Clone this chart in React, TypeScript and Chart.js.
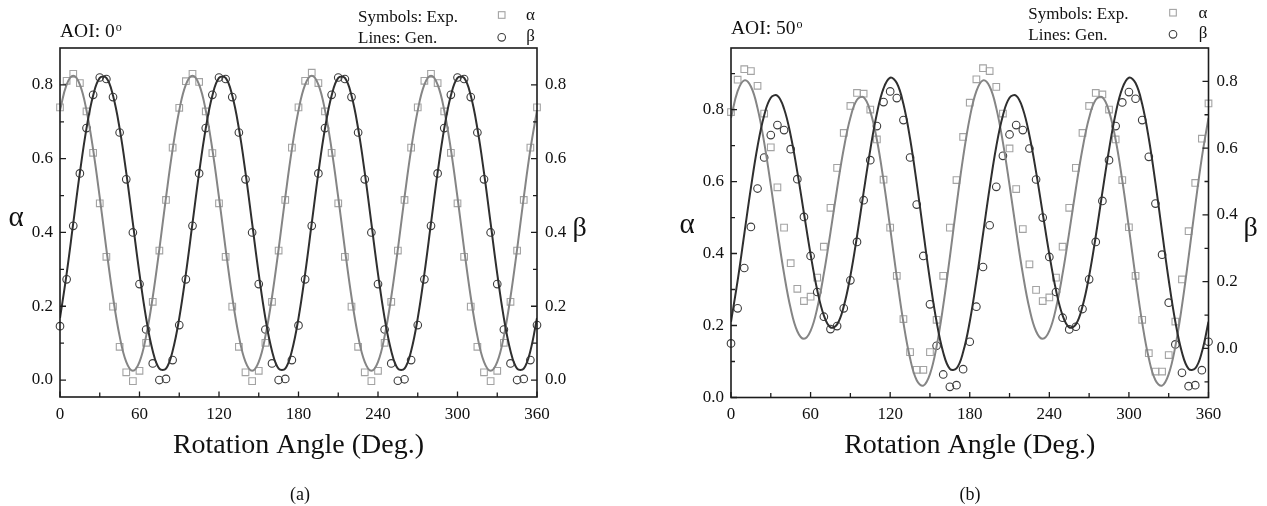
import React, { useEffect, useRef } from 'react';
import { Chart, registerables } from 'chart.js';

Chart.register(...registerables);

// ---------------- data ----------------
const angles = [0, 5, 10, 15, 20, 25, 30, 35, 40, 45, 50, 55, 60, 65, 70, 75, 80, 85, 90, 95, 100, 105, 110, 115, 120, 125, 130, 135, 140, 145, 150, 155, 160, 165, 170, 175, 180, 185, 190, 195, 200, 205, 210, 215, 220, 225, 230, 235, 240, 245, 250, 255, 260, 265, 270, 275, 280, 285, 290, 295, 300, 305, 310, 315, 320, 325, 330, 335, 340, 345, 350, 355, 360];

// (a) AOI 0°
const alphaExpA = [
  0.739, 0.811, 0.83, 0.805, 0.728, 0.616, 0.479, 0.334, 0.199, 0.09, 0.021, -0.003, 0.025, 0.101, 0.212, 0.351, 0.488, 0.63,
  0.738, 0.81, 0.83, 0.808, 0.728, 0.615, 0.479, 0.334, 0.199, 0.09, 0.021, -0.003, 0.025, 0.101, 0.212, 0.351, 0.488, 0.63,
  0.739, 0.811, 0.833, 0.805, 0.728, 0.616, 0.479, 0.334, 0.199, 0.09, 0.021, -0.003, 0.025, 0.101, 0.212, 0.351, 0.488, 0.63,
  0.739, 0.811, 0.83, 0.805, 0.728, 0.616, 0.479, 0.334, 0.199, 0.09, 0.021, -0.003, 0.025, 0.101, 0.212, 0.351, 0.488, 0.63,
  0.739];
const betaExpA = [
  0.146, 0.273, 0.418, 0.56, 0.683, 0.773, 0.82, 0.816, 0.767, 0.671, 0.544, 0.4, 0.26, 0.137, 0.045, 0.0, 0.003, 0.054,
  0.149, 0.273, 0.418, 0.56, 0.683, 0.773, 0.82, 0.816, 0.767, 0.671, 0.544, 0.4, 0.26, 0.137, 0.045, 0.0, 0.003, 0.054,
  0.148, 0.273, 0.418, 0.56, 0.683, 0.773, 0.82, 0.816, 0.767, 0.671, 0.544, 0.4, 0.26, 0.137, 0.045, -0.002, 0.002, 0.054,
  0.149, 0.273, 0.418, 0.56, 0.683, 0.773, 0.82, 0.816, 0.767, 0.671, 0.544, 0.4, 0.26, 0.137, 0.045, 0.0, 0.003, 0.054,
  0.149];
const alphaGenA = [
  0.731, 0.801, 0.825, 0.801, 0.731, 0.625, 0.495, 0.355, 0.225, 0.119, 0.049, 0.025, 0.049, 0.119, 0.225, 0.355, 0.495, 0.625,
  0.731, 0.801, 0.825, 0.801, 0.731, 0.625, 0.495, 0.355, 0.225, 0.119, 0.049, 0.025, 0.049, 0.119, 0.225, 0.355, 0.495, 0.625,
  0.731, 0.801, 0.825, 0.801, 0.731, 0.625, 0.495, 0.355, 0.225, 0.119, 0.049, 0.025, 0.049, 0.119, 0.225, 0.355, 0.495, 0.625,
  0.731, 0.801, 0.825, 0.801, 0.731, 0.625, 0.495, 0.355, 0.225, 0.119, 0.049, 0.025, 0.049, 0.119, 0.225, 0.355, 0.495, 0.625,
  0.731];
const betaGenA = [
  0.168, 0.288, 0.425, 0.562, 0.682, 0.771, 0.819, 0.819, 0.771, 0.682, 0.562, 0.425, 0.288, 0.168, 0.079, 0.031, 0.031, 0.079,
  0.168, 0.288, 0.425, 0.562, 0.682, 0.771, 0.819, 0.819, 0.771, 0.682, 0.562, 0.425, 0.288, 0.168, 0.079, 0.031, 0.031, 0.079,
  0.168, 0.288, 0.425, 0.562, 0.682, 0.771, 0.819, 0.819, 0.771, 0.682, 0.562, 0.425, 0.288, 0.168, 0.079, 0.031, 0.031, 0.079,
  0.168, 0.288, 0.425, 0.562, 0.682, 0.771, 0.819, 0.819, 0.771, 0.682, 0.562, 0.425, 0.288, 0.168, 0.079, 0.031, 0.031, 0.079,
  0.168];

// (b) AOI 50°
const alphaExpB = [
  0.793, 0.883, 0.912, 0.907, 0.866, 0.789, 0.695, 0.584, 0.472, 0.373, 0.302, 0.268, 0.28, 0.333, 0.419, 0.527, 0.638, 0.735,
  0.81, 0.846, 0.844, 0.8, 0.717, 0.605, 0.472, 0.338, 0.218, 0.126, 0.077, 0.077, 0.126, 0.216, 0.338, 0.472, 0.604, 0.724,
  0.819, 0.884, 0.915, 0.907, 0.863, 0.789, 0.692, 0.579, 0.468, 0.37, 0.299, 0.268, 0.278, 0.333, 0.419, 0.527, 0.638, 0.735,
  0.81, 0.846, 0.842, 0.8, 0.717, 0.604, 0.473, 0.338, 0.216, 0.123, 0.072, 0.072, 0.118, 0.211, 0.328, 0.462, 0.596, 0.719,
  0.817];
const betaExpB = [
  0.015, 0.12, 0.241, 0.364, 0.479, 0.572, 0.639, 0.669, 0.654, 0.597, 0.507, 0.394, 0.277, 0.169, 0.095, 0.058, 0.067, 0.12,
  0.204, 0.319, 0.444, 0.564, 0.666, 0.738, 0.77, 0.75, 0.684, 0.572, 0.431, 0.277, 0.132, 0.008, -0.078, -0.115, -0.11, -0.062,
  0.02, 0.125, 0.244, 0.369, 0.484, 0.577, 0.641, 0.669, 0.654, 0.599, 0.506, 0.392, 0.274, 0.169, 0.092, 0.057, 0.065, 0.118,
  0.207, 0.319, 0.442, 0.564, 0.666, 0.737, 0.768, 0.748, 0.684, 0.574, 0.434, 0.281, 0.137, 0.012, -0.073, -0.113, -0.11, -0.065,
  0.02];
const alphaGenB = [
  0.777, 0.851, 0.881, 0.864, 0.804, 0.709, 0.59, 0.463, 0.344, 0.247, 0.184, 0.163, 0.185, 0.248, 0.344, 0.459, 0.58, 0.691,
  0.777, 0.827, 0.834, 0.795, 0.716, 0.603, 0.471, 0.334, 0.208, 0.109, 0.048, 0.033, 0.065, 0.142, 0.255, 0.39, 0.533, 0.667,
  0.777, 0.851, 0.881, 0.864, 0.804, 0.709, 0.59, 0.463, 0.344, 0.247, 0.184, 0.163, 0.185, 0.248, 0.344, 0.459, 0.58, 0.691,
  0.777, 0.827, 0.834, 0.795, 0.716, 0.603, 0.471, 0.334, 0.208, 0.109, 0.048, 0.033, 0.065, 0.142, 0.255, 0.39, 0.533, 0.667,
  0.777];
const betaGenB = [
  0.08, 0.203, 0.342, 0.481, 0.605, 0.698, 0.751, 0.757, 0.718, 0.638, 0.529, 0.405, 0.282, 0.175, 0.099, 0.063, 0.072, 0.126,
  0.217, 0.336, 0.468, 0.595, 0.704, 0.779, 0.811, 0.795, 0.732, 0.629, 0.496, 0.349, 0.205, 0.08, -0.012, -0.061, -0.06, -0.011,
  0.08, 0.203, 0.342, 0.481, 0.605, 0.698, 0.751, 0.757, 0.718, 0.638, 0.529, 0.405, 0.282, 0.175, 0.099, 0.063, 0.072, 0.126,
  0.217, 0.336, 0.468, 0.595, 0.704, 0.779, 0.811, 0.795, 0.732, 0.629, 0.496, 0.349, 0.205, 0.08, -0.012, -0.061, -0.06, -0.011,
  0.08];

// ticks
const xMajorTicks = [0, 60, 120, 180, 240, 300, 360];
const xMinorTicks = [30, 90, 150, 210, 270, 330];
const yMajorTicks = [0, 0.2, 0.4, 0.6, 0.8];
const yMinorTicksA = [0.1, 0.3, 0.5, 0.7];
const yMinorTicksBLeft = [0.1, 0.3, 0.5, 0.7, 0.9];
const yMinorTicksBRight = [-0.1, 0.1, 0.3, 0.5, 0.7];

const xTitle = 'Rotation Angle (Deg.)';
const legendSymbolsText = 'Symbols: Exp.';
const legendLinesText = 'Lines: Gen.';

// ---------------- styles ----------------
const SERIF = '"Liberation Serif", "Times New Roman", Times, serif';
const TEXT = '#111111';
const FRAME = '#1c1c1c';
const ALPHA_LINE = '#858585';
const BETA_LINE = '#2f2f2f';
const ALPHA_SYM = '#a3a3a3';
const BETA_SYM = '#3c3c3c';

function makeDecor(p: any) {
  return {
    id: 'decor',
    afterDraw(chart: any) {
      const ctx = chart.ctx;
      const ca = chart.chartArea;
      const sx = chart.scales.x;
      const sl = chart.scales.y;
      const sr = chart.scales.y2;
      ctx.save();
      // frame
      ctx.strokeStyle = FRAME;
      ctx.lineWidth = 1.6;
      ctx.strokeRect(ca.left, ca.top, ca.right - ca.left, ca.bottom - ca.top);
      // inward tick marks
      ctx.lineWidth = 1.3;
      ctx.beginPath();
      const xTick = (vals: number[], len: number) => vals.forEach((v) => {
        const px = sx.getPixelForValue(v);
        ctx.moveTo(px, ca.bottom);
        ctx.lineTo(px, ca.bottom - len);
      });
      const lTick = (vals: number[], len: number) => vals.forEach((v) => {
        const py = sl.getPixelForValue(v);
        ctx.moveTo(ca.left, py);
        ctx.lineTo(ca.left + len, py);
      });
      const rTick = (vals: number[], len: number) => vals.forEach((v) => {
        const py = sr.getPixelForValue(v);
        ctx.moveTo(ca.right, py);
        ctx.lineTo(ca.right - len, py);
      });
      xTick(xMajorTicks, 5.5);
      xTick(xMinorTicks, 4.5);
      lTick(yMajorTicks, 6);
      lTick(p.minorL, 4);
      rTick(yMajorTicks, 6);
      rTick(p.minorR, 4);
      ctx.stroke();

      ctx.fillStyle = TEXT;
      ctx.textBaseline = 'alphabetic';
      // panel title with superscript o
      ctx.textAlign = 'left';
      ctx.font = `19.5px ${SERIF}`;
      ctx.fillText(p.title, p.titleX, p.titleY);
      const tw = ctx.measureText(p.title).width;
      ctx.font = `12px ${SERIF}`;
      ctx.fillText('o', p.titleX + tw + 1, p.titleY - 6.5);

      // legend
      ctx.font = `17px ${SERIF}`;
      ctx.fillText(legendSymbolsText, p.legendX, p.legendY1);
      ctx.fillText(legendLinesText, p.legendX, p.legendY2);
      ctx.lineWidth = 1.1;
      ctx.strokeStyle = ALPHA_SYM;
      ctx.strokeRect(p.symX - 3.3, p.symY1 - 3.3, 6.6, 6.6);
      ctx.strokeStyle = BETA_SYM;
      ctx.beginPath();
      ctx.arc(p.symX, p.symY2, 3.8, 0, Math.PI * 2);
      ctx.stroke();
      ctx.textAlign = 'center';
      ctx.fillText('α', p.greekX, p.greekY1);
      ctx.fillText('β', p.greekX, p.greekY2);

      // axis titles
      ctx.font = `29px ${SERIF}`;
      ctx.fillText('α', p.yTitleL[0], p.yTitleL[1]);
      ctx.font = `28px ${SERIF}`;
      ctx.fillText('β', p.yTitleR[0], p.yTitleR[1]);

      // caption
      ctx.font = `18px ${SERIF}`;
      ctx.fillText(p.caption, p.captionX, p.captionY);
      ctx.restore();
    },
  };
}

function buildConfig(p: any) {
  const pts = (ys: number[]) => angles.map((x, i) => ({ x, y: ys[i] }));
  const tickFont = { family: SERIF, size: 17 };
  return {
    type: 'scatter',
    data: {
      datasets: [
        { label: 'β Gen.', data: pts(p.betaGen), yAxisID: 'y2', showLine: true, borderColor: BETA_LINE, borderWidth: 2, pointRadius: 0, tension: 0.4, fill: false },
        { label: 'α Gen.', data: pts(p.alphaGen), yAxisID: 'y', showLine: true, borderColor: ALPHA_LINE, borderWidth: 2, pointRadius: 0, tension: 0.4, fill: false },
        { label: 'β Exp.', data: pts(p.betaExp), yAxisID: 'y2', showLine: false, pointStyle: 'circle', pointRadius: 3.8, borderColor: BETA_SYM, backgroundColor: 'rgba(0,0,0,0)', borderWidth: 1.1, clip: false },
        { label: 'α Exp.', data: pts(p.alphaExp), yAxisID: 'y', showLine: false, pointStyle: 'rect', pointRadius: 4.7, borderColor: ALPHA_SYM, backgroundColor: 'rgba(0,0,0,0)', borderWidth: 1.1, clip: false },
      ],
    },
    options: {
      responsive: false,
      animation: false,
      events: [],
      layout: { padding: { top: 48, left: 0, right: 0, bottom: 0 } },
      plugins: { legend: { display: false }, tooltip: { enabled: false }, title: { display: false } },
      scales: {
        x: {
          type: 'linear', position: 'bottom', min: 0, max: 360,
          grid: { display: false, drawTicks: false }, border: { display: false },
          afterBuildTicks: (s: any) => { s.ticks = xMajorTicks.map((v) => ({ value: v })); },
          afterFit: (s: any) => { s.height = p.xHeight; },
          ticks: { autoSkip: false, maxRotation: 0, padding: 7, color: TEXT, font: tickFont, callback: (v: any) => String(v) },
          title: { display: true, text: xTitle, color: TEXT, font: { family: SERIF, size: 28 }, padding: { top: 0, bottom: 43.7 } },
        },
        y: {
          type: 'linear', position: 'left', min: p.yMin, max: p.yMax,
          grid: { display: false, drawTicks: false }, border: { display: false },
          afterBuildTicks: (s: any) => { s.ticks = yMajorTicks.map((v) => ({ value: v })); },
          afterFit: (s: any) => { s.width = p.yWidth; },
          ticks: { autoSkip: false, padding: 7, color: TEXT, font: tickFont, callback: (v: any) => Number(v).toFixed(1) },
        },
        y2: {
          type: 'linear', position: 'right', min: p.y2Min, max: p.y2Max,
          grid: { display: false, drawTicks: false }, border: { display: false },
          afterBuildTicks: (s: any) => { s.ticks = yMajorTicks.map((v) => ({ value: v })); },
          afterFit: (s: any) => { s.width = p.y2Width; },
          ticks: { autoSkip: false, padding: 8, color: TEXT, font: tickFont, callback: (v: any) => Number(v).toFixed(1) },
        },
      },
    },
    plugins: [makeDecor(p)],
  };
}

const panelA = {
  left: 0, width: 633,
  alphaExp: alphaExpA, betaExp: betaExpA, alphaGen: alphaGenA, betaGen: betaGenA,
  yMin: -0.046, yMax: 0.9, y2Min: -0.046, y2Max: 0.9,
  yWidth: 60, y2Width: 96, xHeight: 109,
  minorL: yMinorTicksA, minorR: yMinorTicksA,
  title: 'AOI: 0', titleX: 60, titleY: 37,
  legendX: 358, legendY1: 21.7, legendY2: 43,
  symX: 501.7, symY1: 15, symY2: 37.3, greekX: 530.5, greekY1: 20, greekY2: 40.5,
  yTitleL: [16, 226], yTitleR: [579.5, 236],
  caption: '(a)', captionX: 300, captionY: 500,
};

const panelB = {
  left: 633, width: 634,
  alphaExp: alphaExpB, betaExp: betaExpB, alphaGen: alphaGenB, betaGen: betaGenB,
  yMin: 0, yMax: 0.971, y2Min: -0.147, y2Max: 0.9,
  yWidth: 98, y2Width: 58.5, xHeight: 108.5,
  minorL: yMinorTicksBLeft, minorR: yMinorTicksBRight,
  title: 'AOI: 50', titleX: 98, titleY: 34,
  legendX: 395.3, legendY1: 18.5, legendY2: 39.5,
  symX: 540, symY1: 12.7, symY2: 34.3, greekX: 570, greekY1: 17.5, greekY2: 38,
  yTitleL: [54, 233], yTitleR: [617.5, 236],
  caption: '(b)', captionX: 337, captionY: 500,
};

function Panel({ spec }: { spec: any }) {
  const ref = useRef<HTMLCanvasElement | null>(null);
  useEffect(() => {
    if (!ref.current) return;
    const chart = new Chart(ref.current, buildConfig(spec) as any);
    return () => chart.destroy();
  }, [spec]);
  return (
    <canvas
      ref={ref}
      width={spec.width}
      height={506}
      style={{ position: 'absolute', left: spec.left, top: 0, width: spec.width, height: 506, display: 'block' }}
    />
  );
}

export default function App() {
  return (
    <div style={{ position: 'fixed', left: 0, top: 0, width: 1267, height: 506, background: '#ffffff', overflow: 'hidden' }}>
      <Panel spec={panelA} />
      <Panel spec={panelB} />
    </div>
  );
}
